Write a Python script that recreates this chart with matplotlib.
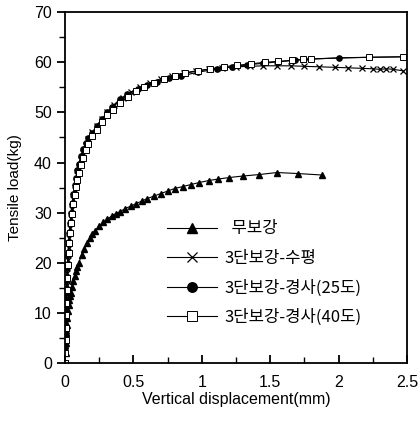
import matplotlib
matplotlib.use("Agg")
import matplotlib.pyplot as plt
from matplotlib.ticker import MultipleLocator

plt.rcParams['font.family'] = ['Liberation Sans', 'Noto Sans CJK KR', 'DejaVu Sans']

# 무보강
x_none = [0, 0.003, 0.006, 0.01, 0.013, 0.017, 0.02, 0.025, 0.03, 0.035, 0.04, 0.05, 0.06, 0.07, 0.08,
          0.09, 0.1, 0.12, 0.14, 0.16, 0.18, 0.2, 0.22, 0.25, 0.28, 0.31, 0.34, 0.37, 0.4, 0.44, 0.48,
          0.52, 0.56, 0.6, 0.65, 0.7, 0.75, 0.8, 0.86, 0.92, 0.98, 1.05, 1.12, 1.2, 1.3, 1.42, 1.55,
          1.7, 1.88]
y_none = [0, 2, 4, 6, 7.5, 9, 10.3, 11.5, 12.5, 13.3, 14, 15.2, 16.3, 17.3, 18.3, 19.2, 20, 21.5,
          22.8, 23.9, 24.9, 25.7, 26.4, 27.3, 28.1, 28.7, 29.3, 29.8, 30.2, 30.8, 31.3, 31.8, 32.3,
          32.8, 33.3, 33.8, 34.3, 34.8, 35.2, 35.6, 36.0, 36.4, 36.7, 37.0, 37.3, 37.6, 38.0, 37.8, 37.5]

# 3단보강-수평
x_hor = [0, 0.002, 0.004, 0.006, 0.008, 0.01, 0.013, 0.016, 0.02, 0.025, 0.03, 0.036, 0.043, 0.05,
         0.06, 0.07, 0.08, 0.09, 0.1, 0.115, 0.13, 0.15, 0.17, 0.2, 0.23, 0.27, 0.31, 0.36, 0.42, 0.48,
         0.55, 0.62, 0.7, 0.78, 0.87, 0.96, 1.05, 1.15, 1.25, 1.35, 1.45, 1.55, 1.65, 1.75, 1.86, 1.97,
         2.07, 2.17, 2.25, 2.3, 2.35, 2.4, 2.47]
y_hor = [0, 2.5, 5, 8, 10.5, 13, 15.5, 18, 20.5, 23, 25, 27, 29, 30.8, 32.8, 34.6, 36.2, 37.6, 38.9,
         40.5, 41.9, 43.4, 44.7, 46.0, 47.3, 48.7, 50.0, 51.4, 52.8, 54.0, 55.1, 55.9, 56.7, 57.3,
         57.9, 58.3, 58.6, 58.9, 59.1, 59.2, 59.3, 59.3, 59.3, 59.2, 59.1, 59.0, 58.9, 58.8, 58.7,
         58.6, 58.7, 58.6, 58.3]

# 3단보강-경사(25도)
x_25 = [0, 0.002, 0.004, 0.006, 0.008, 0.01, 0.013, 0.016, 0.02, 0.025, 0.03, 0.036, 0.043, 0.05,
        0.06, 0.07, 0.08, 0.09, 0.1, 0.115, 0.13, 0.15, 0.17, 0.2, 0.23, 0.27, 0.31, 0.34, 0.4, 0.45,
        0.53, 0.6, 0.67, 0.76, 0.85, 0.97, 1.11, 1.22, 1.33, 1.45, 1.56, 1.68, 1.79, 2.0, 2.22, 2.47]
y_25 = [0, 3, 6, 9, 11.5, 14, 16.5, 19, 21.5, 24, 26, 28, 30, 31.8, 33.8, 35.5, 37, 38.5, 39.8,
        41.3, 42.6, 43.8, 44.8, 45.9, 47.3, 48.7, 50.0, 51.1, 52.6, 53.6, 54.7, 55.5, 56.1, 56.8,
        57.3, 58.0, 58.7, 59.1, 59.5, 59.8, 60.1, 60.4, 60.6, 60.9, 61.0, 61.1]

# 3단보강-경사(40도)
x_40 = [0, 0.002, 0.004, 0.006, 0.008, 0.01, 0.013, 0.016, 0.02, 0.025, 0.03, 0.036, 0.043, 0.05,
        0.06, 0.07, 0.08, 0.09, 0.1, 0.115, 0.13, 0.15, 0.17, 0.2, 0.23, 0.27, 0.31, 0.35, 0.4, 0.46,
        0.52, 0.58, 0.65, 0.72, 0.8, 0.88, 0.97, 1.06, 1.16, 1.26, 1.36, 1.46, 1.56, 1.66, 1.74, 1.8,
        2.22, 2.47]
y_40 = [0, 2, 4.5, 7, 9.5, 12, 14.5, 17, 19.5, 22, 24, 26, 28, 29.8, 31.8, 33.6, 35.2, 36.6, 37.9,
        39.5, 40.9, 42.4, 43.7, 45.2, 46.5, 48, 49.4, 50.5, 51.8, 53.1, 54.2, 55.0, 55.9, 56.6, 57.2,
        57.8, 58.3, 58.7, 59.1, 59.4, 59.7, 60.0, 60.2, 60.4, 60.6, 60.7, 61.0, 61.1]

labels = ['  무보강', '3단보강-수평', '3단보강-경사(25도)', '3단보강-경사(40도)']

fig = plt.figure(figsize=(4.2, 4.21), dpi=100)
ax = fig.add_axes([0.155, 0.138, 0.814, 0.833])

ms = 3.8
ax.plot(x_none, y_none, '-^', color='k', lw=0.8, ms=ms, label=labels[0])
ax.plot(x_hor, y_hor, '-x', color='k', lw=0.8, ms=ms, mew=0.9, label=labels[1])
ax.plot(x_25, y_25, '-o', color='k', lw=0.8, ms=ms, label=labels[2])
ax.plot(x_40, y_40, '-s', color='k', lw=0.8, ms=ms, mfc='white', mew=0.7, label=labels[3])

ax.set_xlim(0, 2.5)
ax.set_ylim(0, 70)
ax.xaxis.set_major_locator(MultipleLocator(0.5))
ax.xaxis.set_minor_locator(MultipleLocator(0.25))
ax.yaxis.set_major_locator(MultipleLocator(10))
ax.yaxis.set_minor_locator(MultipleLocator(5))
ax.set_xticks([0, 0.5, 1, 1.5, 2, 2.5])
ax.set_xticklabels(['0', '0.5', '1', '1.5', '2', '2.5'])
ax.tick_params(axis='x', which='both', direction='in', labelsize=11.5, pad=9)
ax.tick_params(axis='x', which='major', length=6, width=1.3)
ax.tick_params(axis='x', which='minor', length=4, width=1.0)
ax.tick_params(axis='y', which='both', direction='out', labelsize=11.5)
ax.tick_params(axis='y', which='major', length=6, width=1.3)
ax.tick_params(axis='y', which='minor', length=4, width=1.0)
for s in ax.spines.values():
    s.set_linewidth(1.3)

ax.set_xlabel('Vertical displacement(mm)', fontsize=11.5, labelpad=1)
ax.set_ylabel('Tensile load(kg)', fontsize=11, labelpad=9)

leg = ax.legend(loc='upper left', bbox_to_anchor=(0.275, 0.43), frameon=False,
                handlelength=3.0, handletextpad=0.4, labelspacing=0.75, borderpad=0,
                prop={'family': ['Noto Sans CJK KR', 'DejaVu Sans'], 'size': 12},
                markerscale=1.8)

fig.savefig('out.png', dpi=100)
